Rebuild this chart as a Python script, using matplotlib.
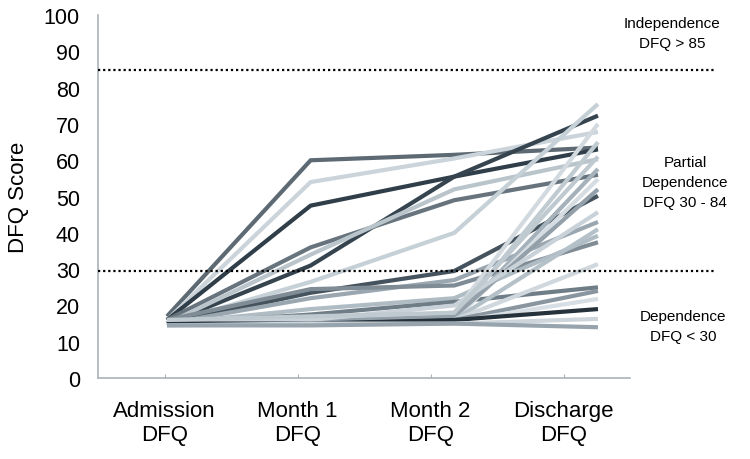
import matplotlib
matplotlib.use('Agg')
import matplotlib.pyplot as plt

plt.rcParams['font.family'] = ['Liberation Sans', 'DejaVu Sans']

# categories on the x axis
stages = ['Admission\nDFQ', 'Month 1\nDFQ', 'Month 2\nDFQ', 'Discharge\nDFQ']

# DFQ score per patient at each stage
admission = [17, 16, 16, 15, 16, 15, 15, 15, 15, 16, 15, 15, 15, 15, 15,
             15, 15, 15, 15, 15, 15, 15, 15, 14.5, 14.5, 16]
month1 = [60, 54, 47.5, 31, 36, 34, 26.5, 23.5, 22, 24.5, 19, 17.5, 16, 16, 15.8,
          15.5, 15.5, 16, 15, 15, 15, 15, 15, 15, 14.5, 17]
month2 = [61.5, 60.5, 55.5, 55.5, 49, 52, 40, 29.5, 27, 25.5, 22, 21, 18, 16.5, 16,
          16, 17, 20, 16, 16, 16, 15.5, 16, 15, 15, 18]
discharge = [63.5, 67.8, 63, 72.3, 56, 60.3, 75.5, 50.2, 43, 37.4, 39.2, 25, 70, 65, 57.6,
             54.8, 52, 45.7, 41, 31.4, 24, 21.8, 19, 16.3, 14, 61]

line_colors = ['#5d6a73', '#cbd4da', '#2f3e49', '#35444f', '#67747d', '#b9c4cb',
               '#c6d0d7', '#45535e', '#9aa7b0', '#7f8c96', '#b0bcc4', '#6f7d87',
               '#d2dae0', '#c0cad1', '#a6b2bb', '#d6dde2', '#93a0aa', '#c9d2d9',
               '#b5c1c9', '#d0d8de', '#8996a0', '#d8dfe4', '#25313b', '#cdd5db',
               '#97a4ad', '#bfc9d0']

thresholds = [85, 29.5]

fig = plt.figure(figsize=(7.5, 4.6), dpi=100)
ax = fig.add_axes([0.1307, 0.176, 0.7093, 0.789])

ax.set_xlim(-0.5, 3.5)
ax.set_ylim(0, 100)
ax.set_yticks(range(0, 101, 10))
ax.set_xticks(range(len(stages)))
ax.set_xticklabels(stages, fontsize=16, linespacing=1.15)
ax.tick_params(axis='y', length=0, pad=13, labelsize=15.5)
ax.tick_params(axis='x', direction='in', length=3, color='#a9b3ba', pad=16)
for s in ['top', 'right']:
    ax.spines[s].set_visible(False)
for s in ['left', 'bottom']:
    ax.spines[s].set_color('#a9b3ba')
    ax.spines[s].set_linewidth(1.2)
ax.set_ylabel('DFQ Score', fontsize=16, labelpad=11)

# lines sit slightly offset from the category labels, so use a twin x axis
ax2 = ax.twiny()
for i in range(len(admission)):
    ax2.plot(range(4), [admission[i], month1[i], month2[i], discharge[i]],
             color=line_colors[i], lw=3, solid_joinstyle='miter', solid_capstyle='butt')

for t in thresholds:
    ax2.plot([0, 1.16], [t, t], transform=ax2.get_yaxis_transform(),
             color='black', ls=(0, (1, 1.3)), lw=1.6, clip_on=False)
ax2.set_xlim(-0.48, 3.223)
ax2.set_ylim(0, 100)
ax2.axis('off')

fig.text(672 / 750, 1 - 34 / 460, 'Independence\nDFQ > 85', ha='center', va='center',
         fontsize=11, linespacing=1.55)
fig.text(685 / 750, 1 - 183 / 460, 'Partial\nDependence\nDFQ 30 - 84', ha='center',
         va='center', fontsize=11, linespacing=1.55)
fig.text(683 / 750, 1 - 327 / 460, 'Dependence\nDFQ < 30', ha='center', va='center',
         fontsize=11, linespacing=1.55)

fig.savefig('out.png', dpi=100)
